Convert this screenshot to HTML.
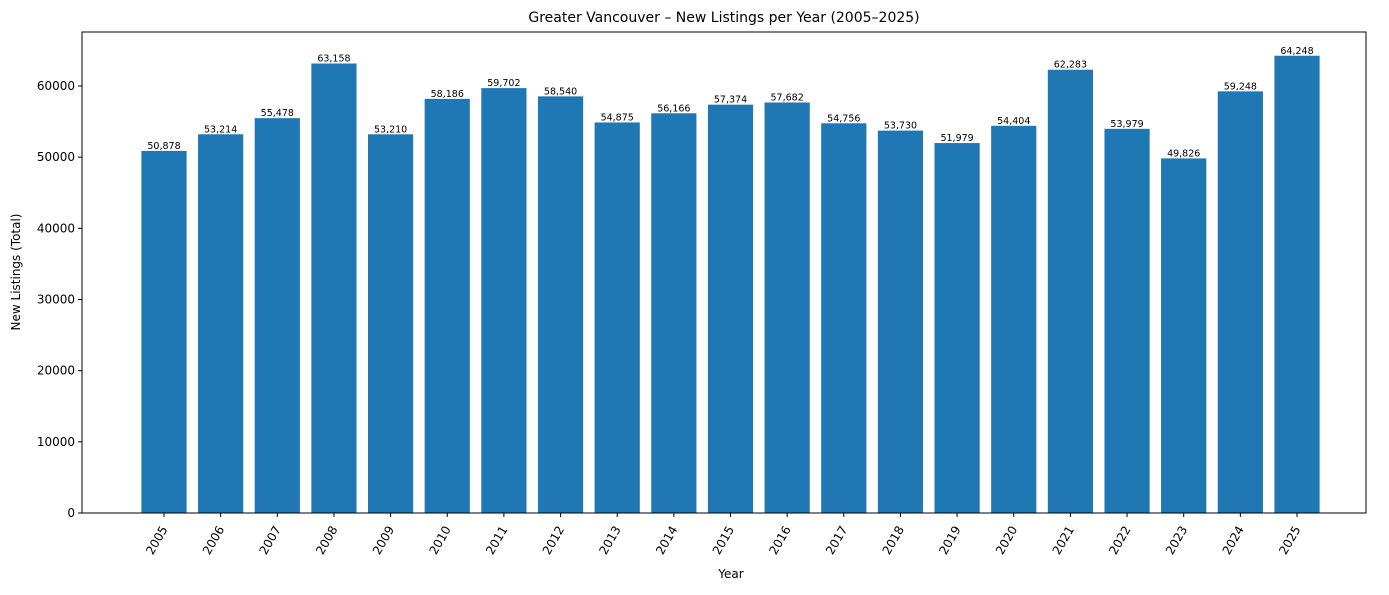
<!DOCTYPE html>
<html><head><meta charset="utf-8"><style>body{margin:0;background:#fff}</style></head><body>
<svg width="1389" height="590" xmlns="http://www.w3.org/2000/svg" font-family="DejaVu Sans, Liberation Sans, sans-serif">
<rect width="1389" height="590" fill="#fff"/>
<text x="724" y="22" font-size="14" text-anchor="middle">Greater Vancouver – New Listings per Year (2005–2025)</text>
<g fill="#1f77b4">
<rect x="141.4" y="150.9" width="45.2" height="362.1"/>
<rect x="198.05" y="134.28" width="45.2" height="378.72"/>
<rect x="254.7" y="118.16" width="45.2" height="394.84"/>
<rect x="311.35" y="63.51" width="45.2" height="449.49"/>
<rect x="368.0" y="134.3" width="45.2" height="378.7"/>
<rect x="424.65" y="98.89" width="45.2" height="414.11"/>
<rect x="481.3" y="88.1" width="45.2" height="424.9"/>
<rect x="537.95" y="96.37" width="45.2" height="416.63"/>
<rect x="594.6" y="122.45" width="45.2" height="390.55"/>
<rect x="651.25" y="113.27" width="45.2" height="399.73"/>
<rect x="707.9" y="104.67" width="45.2" height="408.33"/>
<rect x="764.55" y="102.48" width="45.2" height="410.52"/>
<rect x="821.2" y="123.3" width="45.2" height="389.7"/>
<rect x="877.85" y="130.6" width="45.2" height="382.4"/>
<rect x="934.5" y="143.07" width="45.2" height="369.93"/>
<rect x="991.15" y="125.81" width="45.2" height="387.19"/>
<rect x="1047.8" y="69.73" width="45.2" height="443.27"/>
<rect x="1104.45" y="128.83" width="45.2" height="384.17"/>
<rect x="1161.1" y="158.39" width="45.2" height="354.61"/>
<rect x="1217.75" y="91.33" width="45.2" height="421.67"/>
<rect x="1274.4" y="55.75" width="45.2" height="457.25"/>
</g>
<g font-size="9.5" text-anchor="middle">
<text x="164" y="148.9">50,878</text>
<text x="220.65" y="132.28">53,214</text>
<text x="277.3" y="116.16">55,478</text>
<text x="333.95" y="61.51">63,158</text>
<text x="390.6" y="132.3">53,210</text>
<text x="447.25" y="96.89">58,186</text>
<text x="503.9" y="86.1">59,702</text>
<text x="560.55" y="94.37">58,540</text>
<text x="617.2" y="120.45">54,875</text>
<text x="673.85" y="111.27">56,166</text>
<text x="730.5" y="102.67">57,374</text>
<text x="787.15" y="100.48">57,682</text>
<text x="843.8" y="121.3">54,756</text>
<text x="900.45" y="128.6">53,730</text>
<text x="957.1" y="141.07">51,979</text>
<text x="1013.75" y="123.81">54,404</text>
<text x="1070.4" y="67.73">62,283</text>
<text x="1127.05" y="126.83">53,979</text>
<text x="1183.7" y="156.39">49,826</text>
<text x="1240.35" y="89.33">59,248</text>
<text x="1297" y="53.75">64,248</text>
</g>
<rect x="82" y="32" width="1284" height="481" fill="none" stroke="#000" stroke-width="1"/>
<g stroke="#000">
<line x1="164" x2="164" y1="513" y2="517"/><line x1="220.65" x2="220.65" y1="513" y2="517"/><line x1="277.3" x2="277.3" y1="513" y2="517"/><line x1="333.95" x2="333.95" y1="513" y2="517"/><line x1="390.6" x2="390.6" y1="513" y2="517"/><line x1="447.25" x2="447.25" y1="513" y2="517"/><line x1="503.9" x2="503.9" y1="513" y2="517"/><line x1="560.55" x2="560.55" y1="513" y2="517"/><line x1="617.2" x2="617.2" y1="513" y2="517"/><line x1="673.85" x2="673.85" y1="513" y2="517"/><line x1="730.5" x2="730.5" y1="513" y2="517"/><line x1="787.15" x2="787.15" y1="513" y2="517"/><line x1="843.8" x2="843.8" y1="513" y2="517"/><line x1="900.45" x2="900.45" y1="513" y2="517"/><line x1="957.1" x2="957.1" y1="513" y2="517"/><line x1="1013.75" x2="1013.75" y1="513" y2="517"/><line x1="1070.4" x2="1070.4" y1="513" y2="517"/><line x1="1127.05" x2="1127.05" y1="513" y2="517"/><line x1="1183.7" x2="1183.7" y1="513" y2="517"/><line x1="1240.35" x2="1240.35" y1="513" y2="517"/><line x1="1297" x2="1297" y1="513" y2="517"/>
<line x1="78" x2="82" y1="513" y2="513"/><line x1="78" x2="82" y1="441.83" y2="441.83"/><line x1="78" x2="82" y1="370.66" y2="370.66"/><line x1="78" x2="82" y1="299.49" y2="299.49"/><line x1="78" x2="82" y1="228.32" y2="228.32"/><line x1="78" x2="82" y1="157.15" y2="157.15"/><line x1="78" x2="82" y1="85.98" y2="85.98"/>
</g>
<g font-size="12" text-anchor="end">
<text x="75" y="517">0</text><text x="75" y="445.83">10000</text><text x="75" y="374.66">20000</text><text x="75" y="303.49">30000</text><text x="75" y="232.32">40000</text><text x="75" y="161.15">50000</text><text x="75" y="89.98">60000</text>
</g>
<g font-size="12" text-anchor="end">
<text transform="translate(168,529) rotate(-60)">2005</text>
<text transform="translate(224.65,529) rotate(-60)">2006</text>
<text transform="translate(281.3,529) rotate(-60)">2007</text>
<text transform="translate(337.95,529) rotate(-60)">2008</text>
<text transform="translate(394.6,529) rotate(-60)">2009</text>
<text transform="translate(451.25,529) rotate(-60)">2010</text>
<text transform="translate(507.9,529) rotate(-60)">2011</text>
<text transform="translate(564.55,529) rotate(-60)">2012</text>
<text transform="translate(621.2,529) rotate(-60)">2013</text>
<text transform="translate(677.85,529) rotate(-60)">2014</text>
<text transform="translate(734.5,529) rotate(-60)">2015</text>
<text transform="translate(791.15,529) rotate(-60)">2016</text>
<text transform="translate(847.8,529) rotate(-60)">2017</text>
<text transform="translate(904.45,529) rotate(-60)">2018</text>
<text transform="translate(961.1,529) rotate(-60)">2019</text>
<text transform="translate(1017.75,529) rotate(-60)">2020</text>
<text transform="translate(1074.4,529) rotate(-60)">2021</text>
<text transform="translate(1131.05,529) rotate(-60)">2022</text>
<text transform="translate(1187.7,529) rotate(-60)">2023</text>
<text transform="translate(1244.35,529) rotate(-60)">2024</text>
<text transform="translate(1301,529) rotate(-60)">2025</text>
</g>
<text x="20" y="272" font-size="12" text-anchor="middle" transform="rotate(-90 20 272)">New Listings (Total)</text>
<text x="731" y="578" font-size="12" text-anchor="middle">Year</text>
</svg>
</body></html>
